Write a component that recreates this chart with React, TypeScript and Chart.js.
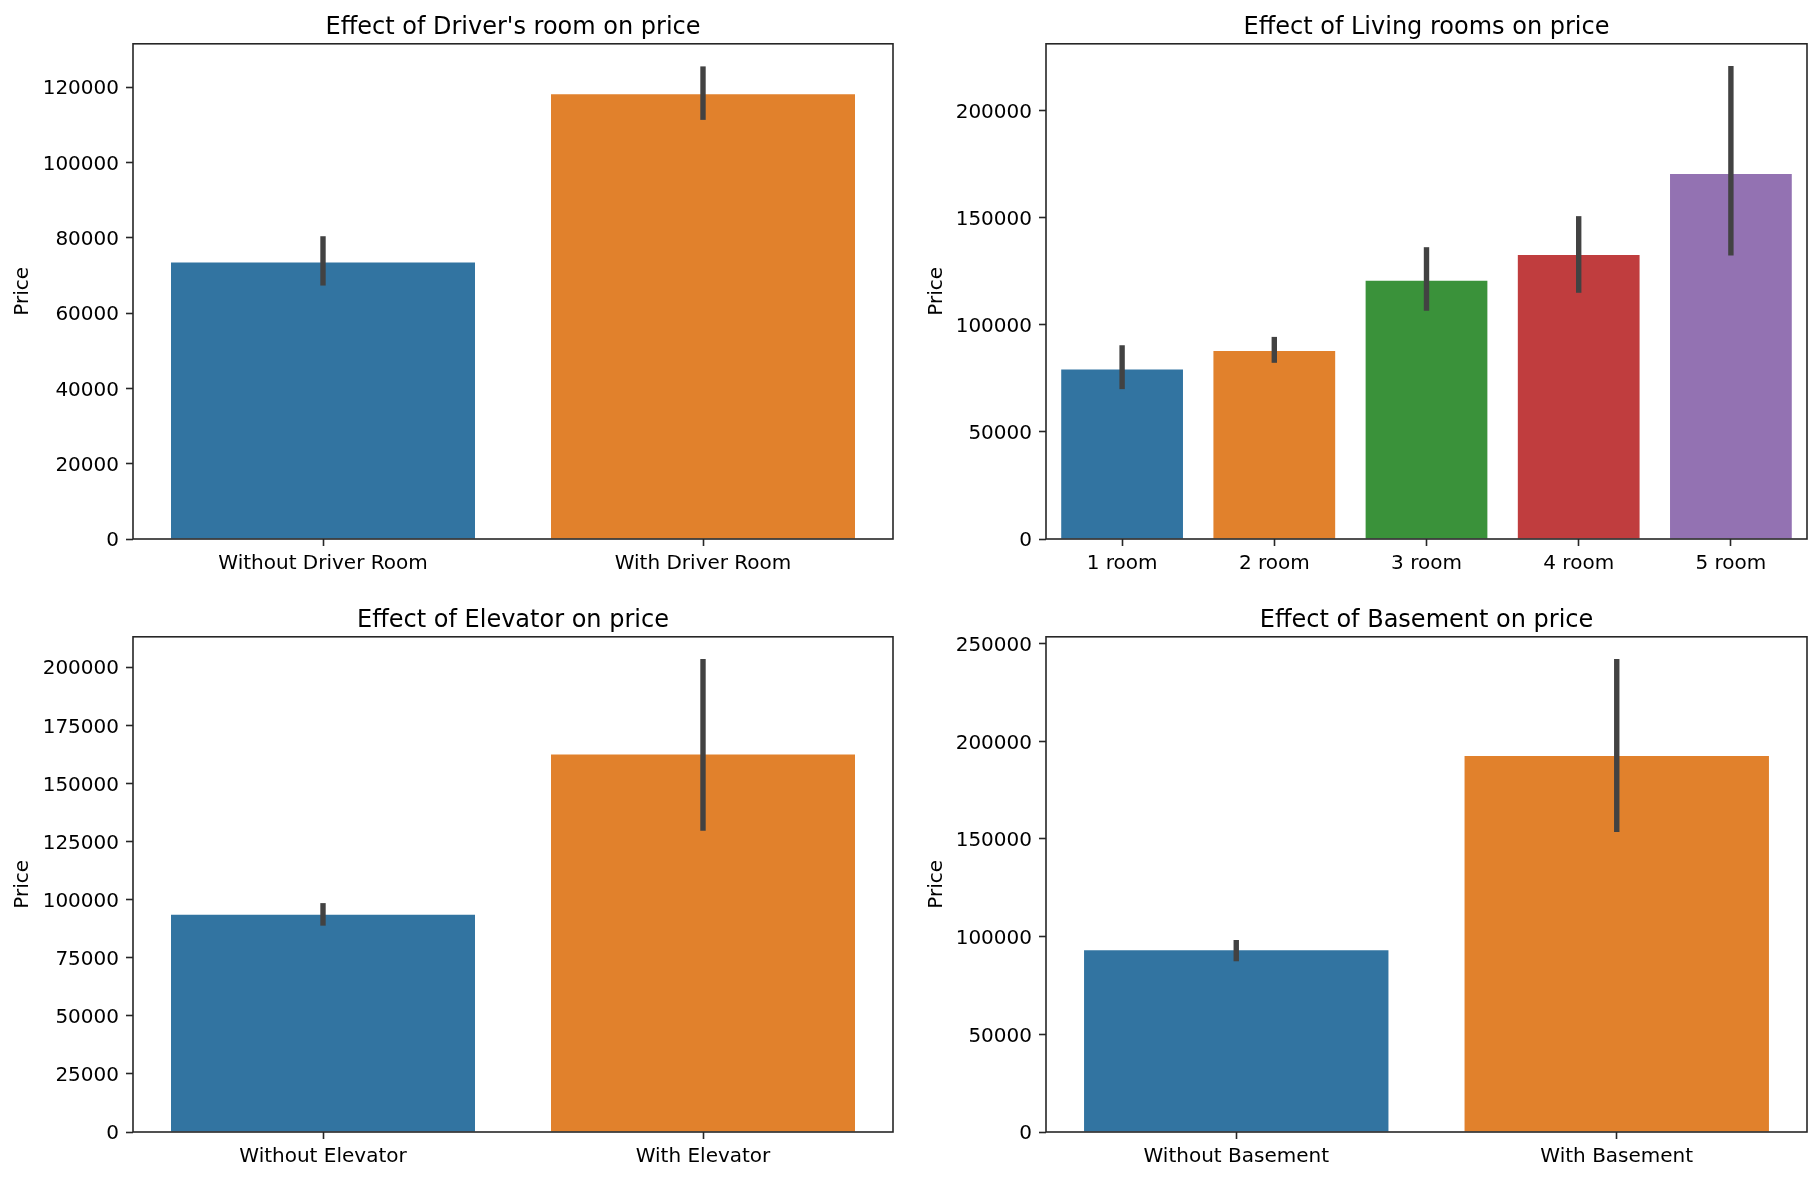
import React, { useEffect, useRef } from "react";
import { Chart, registerables } from "chart.js";

Chart.register(...registerables);
Chart.defaults.font.family = "'DejaVu Sans', sans-serif";
Chart.defaults.color = "#000000";

// ---------- data ----------
const driverCats = ["Without Driver Room", "With Driver Room"];
const driverMeans = [73400, 118100];
const driverLow = [67300, 111300];
const driverHigh = [80400, 125500];
const driverTicks = [0, 20000, 40000, 60000, 80000, 100000, 120000];
const driverMax = 131500;

const livingCats = ["1 room", "2 room", "3 room", "4 room", "5 room"];
const livingMeans = [79200, 87800, 120600, 132700, 170500];
const livingLow = [70000, 82300, 106600, 115000, 132400];
const livingHigh = [90500, 94400, 136300, 150800, 220900];
const livingTicks = [0, 50000, 100000, 150000, 200000];
const livingMax = 231300;

const elevCats = ["Without Elevator", "With Elevator"];
const elevMeans = [93500, 162500];
const elevLow = [88800, 129600];
const elevHigh = [98500, 203600];
const elevTicks = [0, 25000, 50000, 75000, 100000, 125000, 150000, 175000, 200000];
const elevMax = 213100;

const baseCats = ["Without Basement", "With Basement"];
const baseMeans = [93000, 192500];
const baseLow = [87400, 153600];
const baseHigh = [98300, 242100];
const baseTicks = [0, 50000, 100000, 150000, 200000, 250000];
const baseMax = 253500;

const titles = [
  "Effect of Driver's room on price",
  "Effect of Living rooms on price",
  "Effect of Elevator on price",
  "Effect of Basement on price",
];

const palette = ["#3274a1", "#e1812c", "#3a923a", "#c03d3e", "#9372b2"];

// ---------- layout ----------
const CANVAS_W = 910;
const CANVAS_H = 579;
const layouts = [
  { left: 0, top: 10, padL: 11, yW: 122, padR: 17 },
  { left: 910, top: 10, padL: 15, yW: 121, padR: 13 },
  { left: 0, top: 603, padL: 11, yW: 122, padR: 17 },
  { left: 910, top: 603, padL: 15, yW: 121, padR: 13 },
];

const panelsData = [
  { cats: driverCats, means: driverMeans, low: driverLow, high: driverHigh, ticks: driverTicks, max: driverMax },
  { cats: livingCats, means: livingMeans, low: livingLow, high: livingHigh, ticks: livingTicks, max: livingMax },
  { cats: elevCats, means: elevMeans, low: elevLow, high: elevHigh, ticks: elevTicks, max: elevMax },
  { cats: baseCats, means: baseMeans, low: baseLow, high: baseHigh, ticks: baseTicks, max: baseMax },
];

const SPINE = "#262626";

function Panel({ idx }: { idx: number }) {
  const ref = useRef<HTMLCanvasElement | null>(null);
  useEffect(() => {
    const d = panelsData[idx];
    const lay = layouts[idx];
    const errPlugin = {
      id: "errbars" + idx,
      afterDatasetsDraw(chart: any) {
        const meta = chart.getDatasetMeta(0);
        const y = chart.scales.y;
        const ctx = chart.ctx;
        ctx.save();
        ctx.strokeStyle = "#424242";
        ctx.lineWidth = 5.4;
        ctx.lineCap = "butt";
        meta.data.forEach((bar: any, i: number) => {
          ctx.beginPath();
          ctx.moveTo(bar.x, y.getPixelForValue(d.low[i]));
          ctx.lineTo(bar.x, y.getPixelForValue(d.high[i]));
          ctx.stroke();
        });
        const a = chart.chartArea;
        ctx.strokeStyle = SPINE;
        ctx.lineWidth = 1.6;
        ctx.strokeRect(a.left, a.top, a.right - a.left, a.bottom - a.top);
        ctx.restore();
      },
    };
    const chart = new Chart(ref.current as HTMLCanvasElement, {
      type: "bar",
      data: {
        labels: d.cats,
        datasets: [
          {
            data: d.means,
            backgroundColor: d.cats.map((_, i) => palette[i % palette.length]),
            borderWidth: 0,
            categoryPercentage: 1,
            barPercentage: 0.8,
          },
        ],
      },
      options: {
        responsive: false,
        animation: false,
        devicePixelRatio: 1,
        layout: { padding: { left: lay.padL, right: lay.padR, top: 0, bottom: 0 } },
        plugins: {
          legend: { display: false },
          tooltip: { enabled: false },
          title: {
            display: true,
            text: titles[idx],
            fullSize: false,
            color: "#000000",
            font: { size: 24, weight: "normal" as any, lineHeight: 1.2 },
            padding: { top: 3, bottom: 2 },
          },
        },
        scales: {
          x: {
            type: "category",
            offset: true,
            grid: {
              display: true,
              drawOnChartArea: false,
              drawTicks: true,
              offset: false,
              tickLength: 7,
              tickWidth: 1.6,
              tickColor: SPINE,
            },
            border: { display: false },
            ticks: {
              color: "#000000",
              font: { size: 20, lineHeight: 1.2 },
              padding: 6,
              maxRotation: 0,
              autoSkip: false,
            },
            afterFit: (s: any) => {
              s.height = 50;
            },
          },
          y: {
            type: "linear",
            min: 0,
            max: d.max,
            grid: {
              display: true,
              drawOnChartArea: false,
              drawTicks: true,
              tickLength: 7,
              tickWidth: 1.6,
              tickColor: SPINE,
            },
            border: { display: false },
            ticks: {
              color: "#000000",
              font: { size: 20, lineHeight: 1.2 },
              padding: 7,
              labelOffset: 2,
              callback: (v: any) => String(v),
            },
            afterBuildTicks: (s: any) => {
              s.ticks = d.ticks.map((v) => ({ value: v }));
            },
            afterFit: (s: any) => {
              s.width = lay.yW;
            },
            title: {
              display: true,
              text: "Price",
              color: "#000000",
              font: { size: 20, lineHeight: 1.2 },
              padding: 0,
            },
          },
        },
      },
      plugins: [errPlugin],
    });
    return () => chart.destroy();
  }, [idx]);
  const lay = layouts[idx];
  return (
    <canvas
      ref={ref}
      width={CANVAS_W}
      height={CANVAS_H}
      style={{
        position: "absolute",
        left: lay.left,
        top: lay.top,
        width: CANVAS_W,
        height: CANVAS_H,
      }}
    />
  );
}

export default function App() {
  return (
    <div
      style={{
        position: "absolute",
        left: 0,
        top: 0,
        width: 1820,
        height: 1179,
        background: "#ffffff",
        overflow: "hidden",
      }}
    >
      {[0, 1, 2, 3].map((i) => (
        <Panel key={i} idx={i} />
      ))}
    </div>
  );
}
